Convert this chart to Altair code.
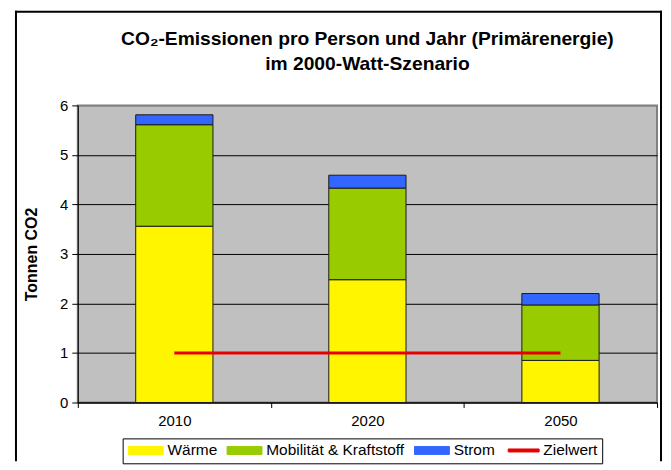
import altair as alt
import pandas as pd

# ---- data ----
years = ["2010", "2020", "2050"]
waerme = [3.56, 2.48, 0.85]
mobilitaet = [2.05, 1.85, 1.12]
strom = [0.20, 0.26, 0.23]
zielwert = [1.0, 1.0, 1.0]
categories = ["Wärme", "Mobilität & Kraftstoff", "Strom", "Zielwert"]
colors = ["#FFF500", "#99CC00", "#3366FF", "#E60000"]
y_ticks = [0, 1, 2, 3, 4, 5, 6]
title_lines = ["CO₂-Emissionen pro Person und Jahr (Primärenergie)", "im 2000-Watt-Szenario"]
y_title = "Tonnen CO2"

rows = []
for i, yr in enumerate(years):
    for k, (cat, vals) in enumerate(zip(categories[:3], [waerme, mobilitaet, strom])):
        rows.append({"Jahr": yr, "Kategorie": cat, "Wert": vals[i], "Ordnung": k})
bars_df = pd.DataFrame(rows)
line_df = pd.DataFrame({"Jahr": years, "Kategorie": ["Zielwert"] * len(years), "Wert": zielwert})
dummy = pd.DataFrame({"d": [0]})

W, H = 581, 298
FONT = "Liberation Sans"

color_scale = alt.Scale(domain=categories, range=colors)
legend = alt.Legend(
    title=None, orient="none", legendX=45, legendY=334,
    direction="horizontal", columns=4,
    strokeColor="black", fillColor="white", padding=4,
    labelFont=FONT, labelFontSize=15.5, labelColor="black",
    symbolSize=64,
    symbolType={"expr": "datum.value === 'Zielwert' ? 'M-3.375,-0.375H4.375V0.375H-3.375Z' : 'M-4.375,-1H4.375V1H-4.375Z'"},
    symbolStrokeColor={"expr": "datum.value === 'Zielwert' ? 'transparent' : 'black'"},
    symbolStrokeWidth=1,
    symbolOffset=11.5, labelOffset=14, columnPadding=7,
)

x_enc = alt.X(
    "Jahr:N", sort=years,
    scale=alt.Scale(paddingInner=0, paddingOuter=0),
    axis=alt.Axis(title=None, tickBand="extent", labelAngle=0, grid=False,
                  domainColor="black", tickColor="black", tickSize=5,
                  labelFont=FONT, labelFontSize=15, labelColor="black", labelPadding=6),
)
y_enc = alt.Y(
    "Wert:Q", stack="zero",
    scale=alt.Scale(domain=[0, 6], nice=False),
    axis=alt.Axis(title=y_title, values=y_ticks, grid=True,
                  gridColor={"condition": {"test": "datum.value === 6", "value": "#808080"}, "value": "black"},
                  gridWidth=1, domainColor="black", tickColor="black", tickSize=6,
                  labelFont=FONT, labelFontSize=15, labelColor="black", labelPadding=4,
                  titleFont=FONT, titleFontSize=16, titleFontWeight="bold", titleColor="black",
                  titlePadding=20),
)

bars = alt.Chart(bars_df).mark_bar(
    width=alt.RelativeBandSize(0.4), stroke="#1a1a1a", strokeWidth=1
).encode(
    x=x_enc,
    y=y_enc,
    color=alt.Color("Kategorie:N", scale=color_scale, legend=legend),
    order=alt.Order("Ordnung:Q", sort="ascending"),
)

line = alt.Chart(line_df).mark_line(strokeWidth=3).encode(
    x=alt.X("Jahr:N", sort=years),
    y=alt.Y("Wert:Q"),
    color=alt.Color("Kategorie:N", scale=color_scale, legend=legend),
)

frame_left = alt.Chart(dummy).mark_rule(color="black", strokeWidth=2).encode(
    x=alt.value(-62), y=alt.value(-95), y2=alt.value(H + 59))
frame_top = alt.Chart(dummy).mark_rule(color="black", strokeWidth=2).encode(
    x=alt.value(-63), x2=alt.value(W + 5), y=alt.value(-94))
frame_right = alt.Chart(dummy).mark_rule(color="black", strokeWidth=2).encode(
    x=alt.value(W + 4), y=alt.value(-95), y2=alt.value(H + 59))

chart = alt.layer(bars, line, frame_left, frame_top, frame_right).properties(
    width=W, height=H,
    padding={"left": 6, "top": 1, "right": 0, "bottom": 0},
    title=alt.Title(title_lines, font=FONT, fontSize=19.3, fontWeight="bold", color="black",
                    anchor="middle", baseline="bottom", lineHeight=25, offset=-84),
).configure_view(fill="#C0C0C0", stroke="#808080", strokeWidth=2)

chart.save("out.html", embed_options={"renderer": "svg", "actions": False})
